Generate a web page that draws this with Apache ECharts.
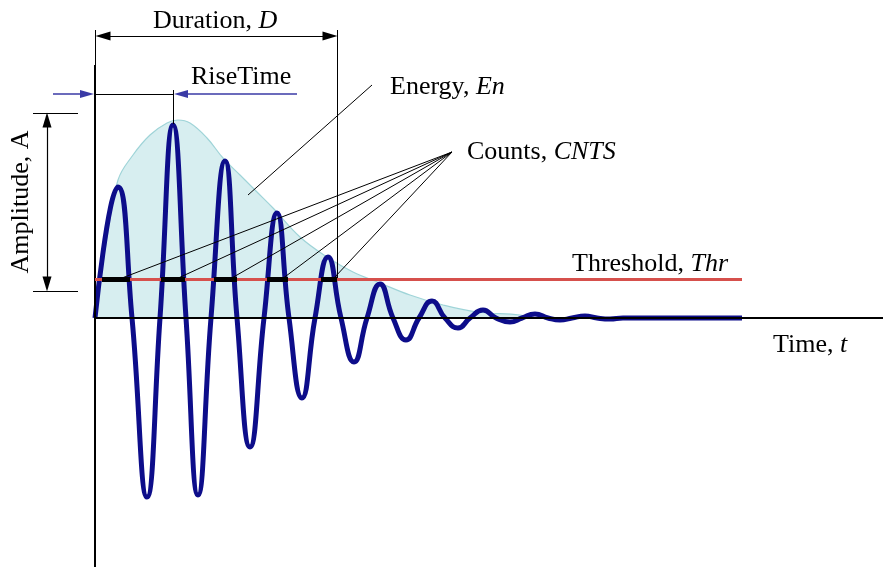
<!DOCTYPE html>
<html>
<head>
<meta charset="utf-8">
<script src="https://cdn.jsdelivr.net/npm/echarts@6/dist/echarts.min.js"></script>
<style>html,body{margin:0;padding:0;background:#fff}#c{width:883px;height:567px}</style>
</head>
<body>
<div id="c"></div>
<script>
// ---- data (time t, amplitude a), arbitrary units ----
const signalT = [0, 2.3, 3.7, 5.2, 6.5, 7.8, 9.1, 10.3, 11.6, 13.0, 14.2, 15.5, 16.9, 18.2, 19.4, 20.7, 22.0, 23.3, 24.6, 25.9, 27.2, 28.5, 29.8, 31.1, 32.4, 33.7, 35.0, 36.3, 37.5, 38.8, 40.1, 41.5, 42.7, 44.0, 45.3, 46.5, 47.7, 49.0, 50.2, 51.5, 52.8, 55.0, 64.7];
const signalA = [0, 13.1, 0, -17.9, 0, 19.3, 0, -17.7, 0, 15.7, 0, -12.9, 0, 10.5, 0, -8.0, 0, 6.1, 0, -4.4, 0, 3.4, 0, -2.2, 0, 1.7, 0, -1.0, 0, 0.8, 0, -0.4, 0, 0.4, 0, -0.2, 0, 0.2, 0, -0.1, 0, 0, 0];

const envelopeT = [0, 1.2, 2.3, 3.8, 5.5, 7.2, 8.3, 9.5, 11.2, 12.8, 14.5, 16.2, 17.8, 20.5, 23.2, 25.8, 28.5, 31.5, 34.8, 38.2, 42.5, 43.8];
const envelopeA = [0, 8.0, 13.8, 16.3, 18.3, 19.5, 19.8, 19.5, 18.0, 16.0, 14.3, 12.6, 11.0, 8.1, 6.1, 4.6, 3.5, 2.3, 1.3, 0.6, 0.3, 0.0];

const thresholdValue = 3.9;
const thresholdEnd = 64.7;
// parts of the threshold line where the signal exceeds it (counts)
const countStart = [0.7, 6.6, 11.9, 17.2, 22.6];
const countEnd   = [3.5, 9.0, 14.2, 19.3, 24.2];
// ends of the "Counts" leader lines on the threshold
const countLeaderT = [2.7, 7.9, 13.5, 18.7, 23.9];
const countLeaderA = [4.0, 3.8, 3.9, 3.9, 4.0];
const countHub = [35.7, 16.6];

const durationEnd = 24.2;
const riseTimeEnd = 7.8;
const peakAmplitude = 19.4;

const xMin = -9.5, xMax = 78.8, yMin = -24.9, yMax = 31.8;

// text labels
const labels = {
  duration: ['Duration, ', 'D'],
  rise: ['RiseTime', ''],
  energy: ['Energy, ', 'En'],
  counts: ['Counts, ', 'CNTS'],
  threshold: ['Threshold, ', 'Thr'],
  time: ['Time, ', 't'],
  amplitude: ['Amplitude, A', '']
};

// ---- build ----
const zip = (a, b) => a.map((v, i) => [v, b[i]]);
const seg = (x1, y1, x2, y2, extra1, extra2) => [Object.assign({coord: [x1, y1]}, extra1 || {}), Object.assign({coord: [x2, y2]}, extra2 || {})];

function markerSeries(name, z, lineStyle, data, symbol) {
  return {
    name, type: 'line', data: [], z, silent: true, animation: false,
    markLine: {
      silent: true, animation: false, symbol: symbol || ['none', 'none'],
      label: {show: false}, emphasis: {disabled: true},
      lineStyle: Object.assign({type: 'solid'}, lineStyle),
      data
    }
  };
}

const FONT = 'Liberation Serif';
const FS = 26;
function richText(parts) {
  return {
    text: '{n|' + parts[0] + '}' + (parts[1] ? '{i|' + parts[1] + '}' : ''),
    rich: {
      n: {fontFamily: FONT, fontSize: FS, fill: '#000', fontStyle: 'normal'},
      i: {fontFamily: FONT, fontSize: FS, fill: '#000', fontStyle: 'italic'}
    }
  };
}
function textEl(parts, x, y, rotation) {
  return {
    type: 'text', x, y, rotation: rotation || 0, z: 100, silent: true,
    style: Object.assign(richText(parts), {align: rotation ? 'center' : 'left', verticalAlign: 'middle'})
  };
}

const arrowHead = {symbol: 'triangle', symbolSize: [9, 15]};
const blueHead = {symbol: 'triangle', symbolSize: [8, 14]};
const noHead = {symbol: 'none'};

const chart = echarts.init(document.getElementById('c'), null, {renderer: 'canvas'});
chart.setOption({
  animation: false,
  backgroundColor: '#ffffff',
  grid: {left: 0, right: 0, top: 0, bottom: 0},
  xAxis: {type: 'value', min: xMin, max: xMax, show: false},
  yAxis: {type: 'value', min: yMin, max: yMax, show: false},
  series: [
    {
      name: 'Energy', type: 'line', z: 1, data: zip(envelopeT, envelopeA), smooth: 0.4,
      symbol: 'none', silent: true,
      lineStyle: {color: '#9fd4d8', width: 1.2},
      areaStyle: {color: '#d7eef0', opacity: 1}
    },
    markerSeries('axes', 2, {color: '#000', width: 2}, [
      seg(0, yMin, 0, 25.3),
      seg(0, 0, xMax, 0)
    ]),
    {
      name: 'Signal', type: 'line', z: 3, data: zip(signalT, signalA), smooth: 0.5,
      symbol: 'none', silent: true,
      lineStyle: {color: '#0d0d8a', width: 5}
    },
    markerSeries('thin', 4, {color: '#000', width: 1}, [
      seg(0, 28.8, 0, 25.3),
      seg(durationEnd, 28.8, durationEnd, thresholdValue),
      seg(0, 22.4, riseTimeEnd, 22.4),
      seg(riseTimeEnd, 22.8, riseTimeEnd, peakAmplitude),
      seg(-6.2, 20.5, -1.7, 20.5),
      seg(-6.2, 2.7, -1.7, 2.7),
      seg(15.3, 12.3, 27.7, 23.3)
    ].concat(countLeaderT.map((t, i) => seg(countHub[0], countHub[1], t, countLeaderA[i])))),
    markerSeries('threshold', 5, {color: '#d6504c', width: 3}, [
      seg(0, thresholdValue, thresholdEnd, thresholdValue)
    ]),
    markerSeries('counts', 6, {color: '#000', width: 5, cap: 'butt'},
      countStart.map((s, i) => seg(s, thresholdValue, countEnd[i], thresholdValue))),
    markerSeries('dimArrows', 7, {color: '#000', width: 1.2}, [
      seg(0.8, 28.2, durationEnd - 0.7, 28.2, arrowHead, arrowHead),
      seg(-4.8, 19.8, -4.8, 3.4, arrowHead, arrowHead)
    ]),
    markerSeries('blueArrows', 7, {color: '#3a3aa6', width: 1.5}, [
      seg(-4.2, 22.4, -0.8, 22.4, noHead, blueHead),
      seg(20.2, 22.4, 8.6, 22.4, noHead, blueHead)
    ])
  ],
  graphic: [
    textEl(labels.duration, 153, 21),
    textEl(labels.rise, 191, 77),
    textEl(labels.energy, 390, 87),
    textEl(labels.counts, 467, 152),
    textEl(labels.threshold, 572, 264),
    textEl(labels.time, 773, 345),
    textEl(labels.amplitude, 21, 202, Math.PI / 2)
  ]
});
</script>
</body>
</html>
